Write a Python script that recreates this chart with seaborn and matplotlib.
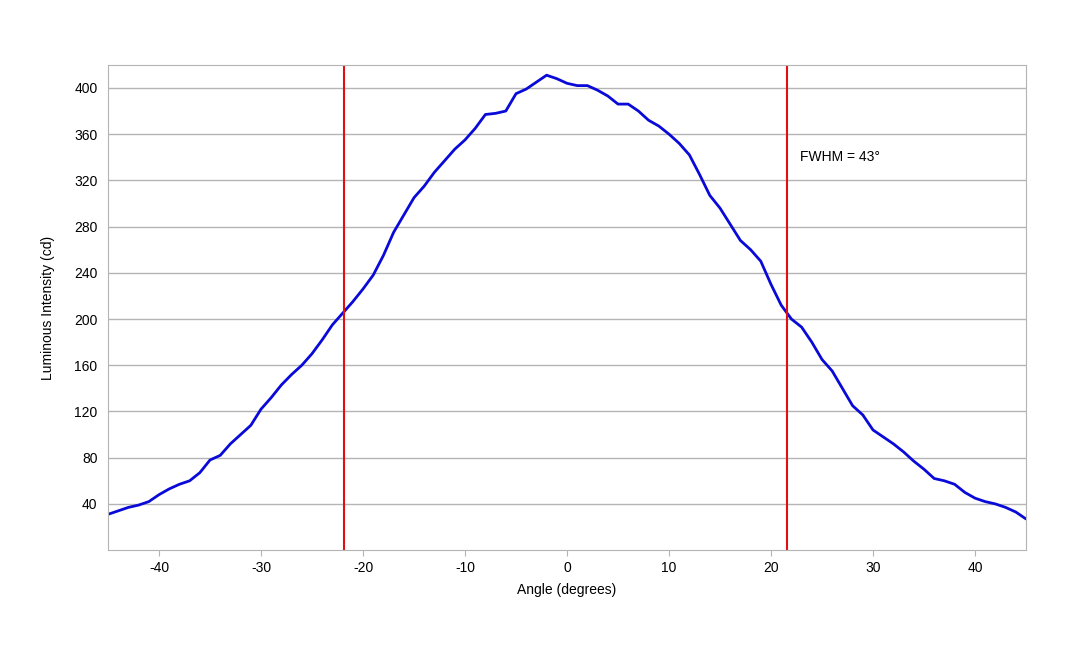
import matplotlib
matplotlib.use("Agg")
import matplotlib.pyplot as plt
import seaborn as sns
import pandas as pd

angles = list(range(-45, 46))
intensity = [31, 34, 37, 39, 42, 48, 53, 57, 60, 67, 78, 82, 92, 100, 108, 122, 132, 143, 152, 160,
             170, 182, 195, 205, 215, 226, 238, 255, 275, 290, 305, 315, 327, 337, 347, 355, 365, 377,
             378, 380, 395, 399, 405, 411, 408, 404, 402, 402, 398, 393, 386, 386, 380, 372, 367, 360,
             352, 342, 325, 307, 296, 282, 268, 260, 250, 230, 212, 200, 193, 180, 165, 155, 140, 125,
             117, 104, 98, 92, 85, 77, 70, 62, 60, 57, 50, 45, 42, 40, 37, 33, 27]
half_max_angles = [-21.9, 21.6]
annotation = "FWHM = 43°"

sns.set_style("white")
plt.rcParams['font.family'] = ['Liberation Sans', 'DejaVu Sans']
plt.rcParams['axes.unicode_minus'] = False
plt.rcParams['text.color'] = 'black'
plt.rcParams['axes.labelcolor'] = 'black'
plt.rcParams['xtick.color'] = 'black'
plt.rcParams['ytick.color'] = 'black'
fig = plt.figure(figsize=(10.8, 6.48), dpi=100)
ax = fig.add_axes([0.1, 0.151, 0.85, 0.749])
df = pd.DataFrame({"angle": angles, "intensity": intensity})
ax.set_axisbelow(True)
ax.yaxis.grid(True, color="#b4b4b4", linewidth=1)
sns.lineplot(data=df, x="angle", y="intensity", ax=ax, color="#0a0ad8", linewidth=2)
for a in half_max_angles:
    ax.axvline(a, color="#e01010", linewidth=1.5)
ax.text(22.8, 337, annotation, fontsize=10)
ax.set_xlim(-45, 45)
ax.set_ylim(0, 420)
ax.set_xticks(range(-40, 41, 10))
ax.set_yticks(range(40, 401, 40))
ax.set_xlabel("Angle (degrees)", fontsize=10, labelpad=6)
ax.set_ylabel("Luminous Intensity (cd)", fontsize=10, labelpad=14)
ax.tick_params(labelsize=10, length=4, bottom=True, left=False)
ax.tick_params(axis="x", color="#b4b4b4")
for s in ax.spines.values():
    s.set_color("#b4b4b4")
fig.savefig("out.png", dpi=100)
